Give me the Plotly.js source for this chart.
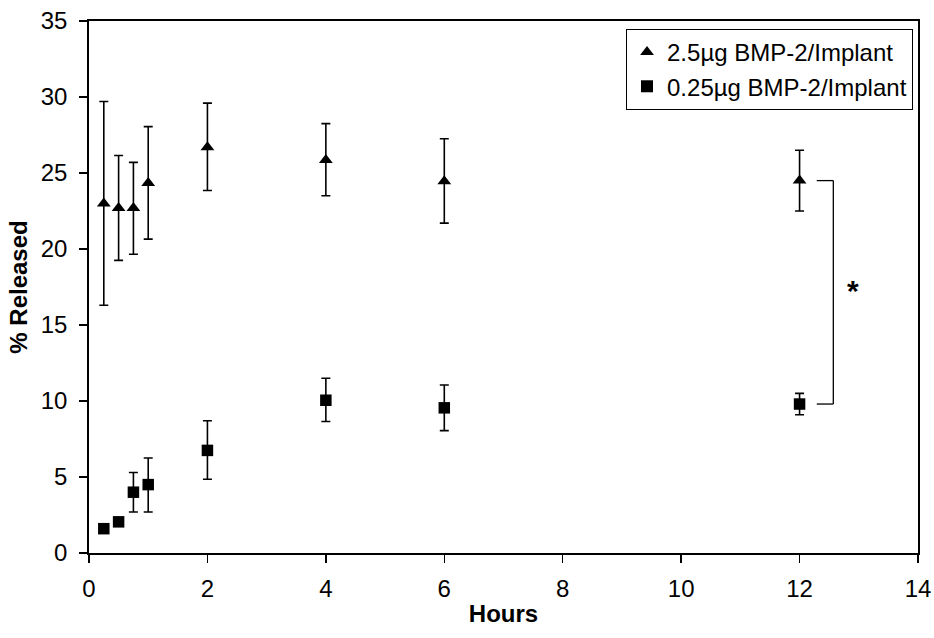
<!DOCTYPE html>
<html>
<head>
<meta charset="utf-8">
<script src="https://cdn.plot.ly/plotly-3.0.1.min.js"></script>
<style>html,body{margin:0;padding:0;background:#fff;}#chart{width:934px;height:638px;}</style>
</head>
<body>
<div id="chart"></div>
<script>
const hours = [0.25, 0.5, 0.75, 1, 2, 4, 6, 12];
const highDoseName = "2.5µg BMP-2/Implant";
const lowDoseName = "0.25µg BMP-2/Implant";
const highDose = [23.0, 22.7, 22.7, 24.35, 26.7, 25.85, 24.45, 24.5];
const highDoseErrPlus = [6.7, 3.45, 3.0, 3.7, 2.9, 2.4, 2.8, 2.0];
const highDoseErrMinus = [6.7, 3.45, 3.05, 3.7, 2.85, 2.35, 2.75, 2.0];
const lowDose = [1.6, 2.05, 4.0, 4.5, 6.75, 10.05, 9.55, 9.8];
const lowDoseErrPlus = [0.15, 0.2, 1.3, 1.75, 1.95, 1.45, 1.5, 0.7];
const lowDoseErrMinus = [0.15, 0.2, 1.3, 1.8, 1.9, 1.4, 1.5, 0.7];
const xTicks = [0, 2, 4, 6, 8, 10, 12, 14];
const yTicks = [0, 5, 10, 15, 20, 25, 30, 35];

const font = "Liberation Sans, Arial, sans-serif";
const traces = [
  {
    x: hours, y: highDose, name: highDoseName, type: "scatter", mode: "markers",
    marker: {symbol: "triangle-up", size: 12, color: "#000"},
    error_y: {type: "data", symmetric: false, array: highDoseErrPlus, arrayminus: highDoseErrMinus,
              color: "#000", thickness: 1.6, width: 4.5}
  },
  {
    x: hours, y: lowDose, name: lowDoseName, type: "scatter", mode: "markers",
    marker: {symbol: "square", size: 11.5, color: "#000"},
    error_y: {type: "data", symmetric: false, array: lowDoseErrPlus, arrayminus: lowDoseErrMinus,
              color: "#000", thickness: 1.6, width: 4.5}
  }
];

const last = hours.length - 1;
const bx0 = 12.29, bx1 = 12.57;
const layout = {
  width: 934, height: 638,
  margin: {l: 89, r: 16, t: 21, b: 85},
  paper_bgcolor: "#fff", plot_bgcolor: "#fff",
  font: {family: font, color: "#000", size: 24},
  showlegend: true,
  legend: {
    x: 0.994, y: 0.985, xanchor: "right", yanchor: "top",
    bordercolor: "#000", borderwidth: 1, bgcolor: "#fff",
    font: {family: font, size: 24, color: "#000"},
    tracegroupgap: 0, itemsizing: "constant", itemwidth: 30
  },
  xaxis: {
    range: [0, 14], tickvals: xTicks, ticktext: xTicks.map(String),
    showgrid: false, zeroline: false, showline: true, linecolor: "#000", linewidth: 1.8,
    mirror: true, ticks: "outside", ticklen: 8, tickcolor: "#000", tickwidth: 1.3,
    ticklabelstandoff: 5,
    tickfont: {family: font, size: 24, color: "#000"},
    title: {text: "<b>Hours</b>", font: {family: font, size: 24, color: "#000"}, standoff: 5}
  },
  yaxis: {
    range: [0, 35], tickvals: yTicks, ticktext: yTicks.map(String),
    showgrid: false, zeroline: false, showline: true, linecolor: "#000", linewidth: 1.8,
    mirror: true, ticks: "outside", ticklen: 8, tickcolor: "#000", tickwidth: 1.3,
    ticklabelstandoff: 7,
    tickfont: {family: font, size: 24, color: "#000"},
    title: {text: "<b>% Released</b>", font: {family: font, size: 24, color: "#000"}, standoff: 6}
  },
  shapes: [
    {type: "line", xref: "x", yref: "y", x0: bx0, x1: bx1, y0: highDose[last], y1: highDose[last], line: {color: "#000", width: 1.3}},
    {type: "line", xref: "x", yref: "y", x0: bx1, x1: bx1, y0: highDose[last], y1: lowDose[last], line: {color: "#000", width: 1.3}},
    {type: "line", xref: "x", yref: "y", x0: bx0, x1: bx1, y0: lowDose[last], y1: lowDose[last], line: {color: "#000", width: 1.3}}
  ],
  annotations: [
    {xref: "x", yref: "y", x: 12.9, y: 17.3, text: "<b>*</b>",
     showarrow: false, font: {family: font, size: 30, color: "#000"}}
  ]
};

Plotly.newPlot("chart", traces, layout, {displayModeBar: false, staticPlot: true});
</script>
</body>
</html>
